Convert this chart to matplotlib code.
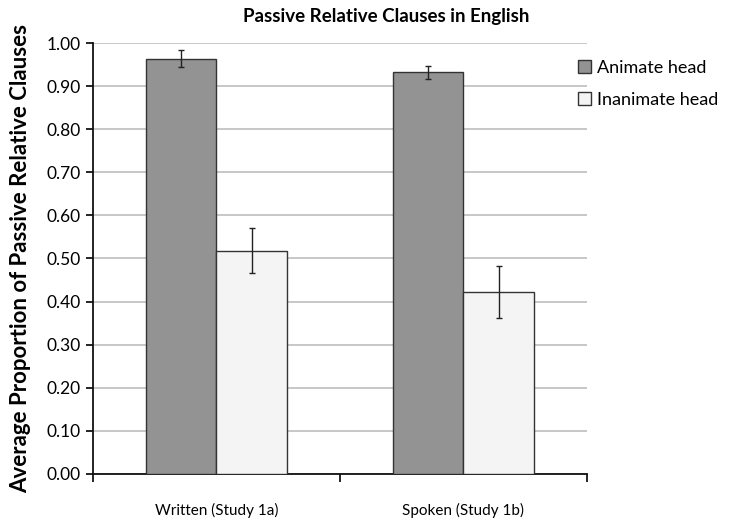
import numpy as np
import matplotlib
matplotlib.use("Agg")
import matplotlib.pyplot as plt
from matplotlib.patches import Patch

plt.rcParams['font.family'] = ['Lato', 'DejaVu Sans']

categories = ['Written (Study 1a)', 'Spoken (Study 1b)']
series = ['Animate head', 'Inanimate head']
animate = [0.964, 0.932]
animate_err = [0.019, 0.015]
inanimate = [0.518, 0.423]
inanimate_err = [0.052, 0.060]
yticks = [0.0, 0.1, 0.2, 0.3, 0.4, 0.5, 0.6, 0.7, 0.8, 0.9, 1.0]

fig = plt.figure(figsize=(7.41, 5.29), dpi=100)
ax = fig.add_axes([0.1255, 0.104, 0.6665, 0.8147])

x = np.arange(len(categories))
w = 0.287
ax.bar(x - w/2, animate, w, color='#939393', edgecolor='#333333', linewidth=1.0, zorder=3)
ax.bar(x + w/2, inanimate, w, color='#f4f4f4', edgecolor='#333333', linewidth=1.0, zorder=3)
ax.errorbar(x - w/2, animate, yerr=animate_err, fmt='none', ecolor='#222222',
            elinewidth=1.0, capsize=2.5, capthick=1.0, zorder=4)
ax.errorbar(x + w/2, inanimate, yerr=inanimate_err, fmt='none', ecolor='#222222',
            elinewidth=1.0, capsize=2.5, capthick=1.0, zorder=4)

ax.set_xlim(-0.5, 1.5)
ax.set_ylim(0, 1.0)
ax.set_yticks(yticks)
ax.set_yticklabels(['%.2f' % v for v in yticks], fontsize=12.5)
ax.yaxis.grid(True, color='#bdbdbd', linewidth=1.2, zorder=0)
ax.set_axisbelow(True)

# category boundary ticks, labels in the middle without ticks
ax.set_xticks([-0.5, 0.5, 1.5])
ax.set_xticklabels([])
ax.set_xticks(x, minor=True)
ax.set_xticklabels(categories, minor=True, fontsize=11)
ax.tick_params(axis='x', which='minor', length=0, pad=21)
ax.tick_params(axis='x', which='major', length=6, width=1.2, direction='out')
ax.tick_params(axis='y', length=5, width=1.2, direction='out', pad=4)

for s in ['top', 'right']:
    ax.spines[s].set_visible(False)
for s in ['left', 'bottom']:
    ax.spines[s].set_linewidth(1.3)
    ax.spines[s].set_color('#111111')

ax.set_ylabel('Average Proportion of Passive Relative Clauses', fontsize=16,
              fontweight='bold', labelpad=11)
fig.text(0.521, 0.968, 'Passive Relative Clauses in English', ha='center', va='center',
         fontsize=13.5, fontweight='bold')

handles = [Patch(facecolor='#939393', edgecolor='#333333', label=series[0]),
           Patch(facecolor='#f4f4f4', edgecolor='#333333', label=series[1])]
fig.legend(handles=handles, loc='upper left', bbox_to_anchor=(0.758, 0.918),
           frameon=False, fontsize=13, handlelength=0.75, handleheight=0.75,
           handletextpad=0.3, labelspacing=0.9)

fig.savefig('out.png', dpi=100)
